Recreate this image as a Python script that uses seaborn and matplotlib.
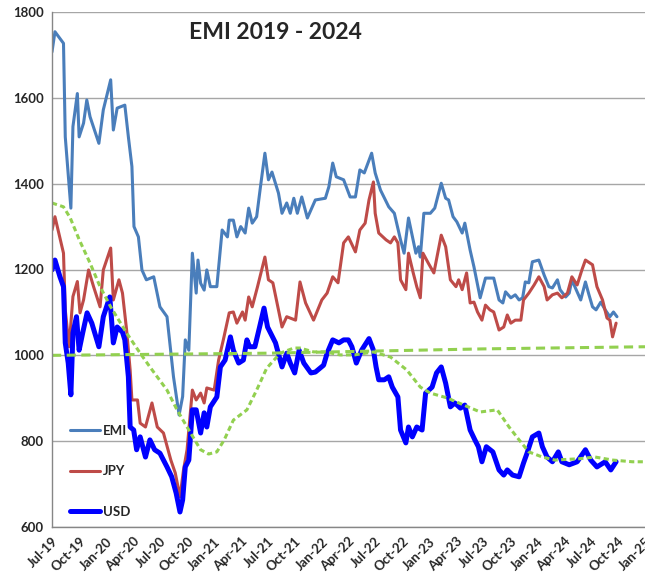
import pandas as pd
import matplotlib.pyplot as plt
import matplotlib.dates as mdates
import seaborn as sns

# EMI index
emi_dates = ['2019-07-01', '2019-07-11', '2019-08-09', '2019-08-15', '2019-09-03', '2019-09-10',
             '2019-09-25', '2019-10-01', '2019-10-16', '2019-10-27', '2019-11-07', '2019-12-07',
             '2019-12-22', '2020-01-16', '2020-01-25', '2020-02-07', '2020-03-04', '2020-03-16',
             '2020-03-28', '2020-04-04', '2020-04-19', '2020-05-01', '2020-05-16', '2020-06-10',
             '2020-07-01', '2020-07-25', '2020-08-16', '2020-09-04', '2020-09-16', '2020-09-25',
             '2020-10-07', '2020-10-19', '2020-11-01', '2020-11-07', '2020-11-16', '2020-11-28',
             '2020-12-07', '2020-12-19', '2021-01-10', '2021-01-28', '2021-02-15', '2021-02-21',
             '2021-03-07', '2021-03-19', '2021-04-01', '2021-04-16', '2021-04-28', '2021-05-10',
             '2021-05-25', '2021-06-07', '2021-06-22', '2021-07-04', '2021-07-16', '2021-08-07',
             '2021-08-19', '2021-09-04', '2021-09-16', '2021-09-28', '2021-10-10', '2021-10-25',
             '2021-11-13', '2021-12-10', '2022-01-13', '2022-01-25', '2022-02-07', '2022-02-19',
             '2022-03-16', '2022-04-07', '2022-04-25', '2022-05-10', '2022-05-25', '2022-06-19',
             '2022-07-01', '2022-07-19', '2022-08-16', '2022-09-04', '2022-09-25', '2022-10-07',
             '2022-10-22', '2022-11-16', '2022-11-25', '2022-12-01', '2022-12-13', '2023-01-04',
             '2023-01-19', '2023-02-10', '2023-02-25', '2023-03-07', '2023-03-22', '2023-04-04',
             '2023-04-22', '2023-05-01', '2023-05-19', '2023-06-01', '2023-06-22', '2023-07-10',
             '2023-08-07', '2023-08-25', '2023-09-07', '2023-09-16', '2023-10-04', '2023-10-19',
             '2023-11-01', '2023-11-13', '2023-11-22', '2023-12-04', '2023-12-16', '2024-01-07',
             '2024-01-25', '2024-02-10', '2024-02-22', '2024-03-10', '2024-03-19', '2024-04-07',
             '2024-04-19', '2024-04-28', '2024-05-10', '2024-05-28', '2024-06-13', '2024-06-25',
             '2024-07-07', '2024-07-19', '2024-08-04', '2024-08-19', '2024-09-04', '2024-09-16',
             '2024-09-28']
emi_vals = [1707, 1754, 1727, 1509, 1343, 1533, 1610, 1509, 1541, 1595, 1556, 1494,
            1572, 1642, 1525, 1576, 1583, 1509, 1440, 1300, 1276, 1199, 1176, 1183,
            1113, 1090, 950, 861, 904, 1036, 1012, 1238, 1145, 1222, 1168, 1152,
            1199, 1160, 1160, 1292, 1276, 1315, 1315, 1276, 1300, 1285, 1343, 1308,
            1323, 1393, 1471, 1409, 1427, 1378, 1331, 1355, 1331, 1366, 1331, 1369,
            1320, 1362, 1366, 1393, 1448, 1416, 1409, 1369, 1369, 1432, 1425, 1471,
            1425, 1385, 1346, 1331, 1269, 1238, 1320, 1238, 1253, 1229, 1331, 1331,
            1343, 1401, 1366, 1362, 1323, 1311, 1285, 1308, 1245, 1206, 1134, 1180,
            1180, 1129, 1122, 1148, 1134, 1141, 1129, 1134, 1171, 1169, 1218, 1222,
            1187, 1160, 1157, 1176, 1153, 1136, 1145, 1176, 1157, 1129, 1171, 1141,
            1113, 1106, 1124, 1106, 1090, 1101, 1090]

# JPY index
jpy_dates = ['2019-07-01', '2019-07-11', '2019-08-09', '2019-08-15', '2019-08-28', '2019-09-10',
             '2019-09-25', '2019-10-04', '2019-10-16', '2019-11-02', '2019-11-19', '2019-12-11',
             '2019-12-22', '2020-01-16', '2020-01-25', '2020-02-13', '2020-02-25', '2020-03-10',
             '2020-03-22', '2020-03-28', '2020-04-16', '2020-04-25', '2020-05-13', '2020-06-04',
             '2020-06-22', '2020-07-13', '2020-08-07', '2020-08-22', '2020-09-07', '2020-09-19',
             '2020-10-01', '2020-10-19', '2020-11-01', '2020-11-16', '2020-11-28', '2020-12-07',
             '2021-01-01', '2021-01-16', '2021-02-01', '2021-02-21', '2021-03-07', '2021-03-19',
             '2021-04-07', '2021-04-16', '2021-04-28', '2021-05-10', '2021-05-28', '2021-06-22',
             '2021-07-04', '2021-07-19', '2021-08-19', '2021-09-04', '2021-10-04', '2021-10-19',
             '2021-11-07', '2021-12-04', '2022-01-01', '2022-01-19', '2022-02-07', '2022-02-25',
             '2022-03-16', '2022-04-01', '2022-04-25', '2022-05-10', '2022-05-28', '2022-06-10',
             '2022-06-25', '2022-07-01', '2022-07-13', '2022-08-07', '2022-08-22', '2022-09-04',
             '2022-09-16', '2022-09-25', '2022-10-13', '2022-10-22', '2022-11-07', '2022-11-19',
             '2022-12-01', '2022-12-10', '2022-12-28', '2023-01-16', '2023-02-10', '2023-02-25',
             '2023-03-13', '2023-04-01', '2023-04-10', '2023-04-22', '2023-05-07', '2023-05-19',
             '2023-06-01', '2023-06-13', '2023-06-28', '2023-07-10', '2023-07-25', '2023-08-07',
             '2023-08-25', '2023-09-10', '2023-09-22', '2023-10-04', '2023-10-19', '2023-11-07',
             '2023-11-16', '2023-12-04', '2023-12-22', '2024-01-07', '2024-01-25', '2024-02-04',
             '2024-02-22', '2024-03-10', '2024-03-25', '2024-04-13', '2024-04-28', '2024-05-16',
             '2024-06-01', '2024-06-13', '2024-07-07', '2024-07-22', '2024-08-10', '2024-08-25',
             '2024-09-04', '2024-09-13', '2024-09-25']
jpy_vals = [1292, 1323, 1238, 1106, 1020, 1137, 1172, 1099, 1129, 1199, 1160, 1113,
            1199, 1250, 1129, 1176, 1145, 1059, 966, 896, 896, 842, 833, 889,
            833, 819, 756, 726, 670, 733, 780, 919, 896, 912, 889, 924,
            919, 989, 1036, 1099, 1101, 1075, 1101, 1082, 1136, 1113, 1160, 1229,
            1176, 1169, 1066, 1090, 1082, 1171, 1122, 1082, 1129, 1145, 1183, 1169,
            1262, 1276, 1241, 1292, 1308, 1362, 1404, 1331, 1285, 1269, 1262, 1276,
            1262, 1176, 1153, 1238, 1192, 1160, 1134, 1238, 1215, 1192, 1280, 1253,
            1176, 1160, 1176, 1153, 1192, 1122, 1124, 1101, 1082, 1117, 1106, 1101,
            1059, 1066, 1094, 1075, 1082, 1082, 1129, 1145, 1164, 1183, 1160, 1129,
            1141, 1145, 1134, 1145, 1183, 1164, 1199, 1222, 1211, 1160, 1129, 1087,
            1082, 1043, 1075]

# USD index
usd_dates = ['2019-07-01', '2019-07-11', '2019-07-28', '2019-08-09', '2019-08-15', '2019-08-25',
             '2019-09-03', '2019-09-10', '2019-09-22', '2019-10-01', '2019-10-13', '2019-10-28',
             '2019-11-13', '2019-12-07', '2019-12-22', '2020-01-13', '2020-01-25', '2020-02-07',
             '2020-02-25', '2020-03-04', '2020-03-16', '2020-03-22', '2020-04-03', '2020-04-13',
             '2020-04-25', '2020-05-13', '2020-05-28', '2020-06-13', '2020-07-01', '2020-07-25',
             '2020-08-10', '2020-08-25', '2020-09-07', '2020-09-16', '2020-09-25', '2020-10-07',
             '2020-10-19', '2020-11-01', '2020-11-16', '2020-11-28', '2020-12-07', '2020-12-19',
             '2021-01-10', '2021-01-22', '2021-02-07', '2021-02-25', '2021-03-07', '2021-03-25',
             '2021-04-10', '2021-04-22', '2021-05-01', '2021-05-19', '2021-06-04', '2021-06-19',
             '2021-07-01', '2021-07-28', '2021-08-19', '2021-09-04', '2021-09-16', '2021-10-01',
             '2021-10-16', '2021-11-01', '2021-11-25', '2021-12-10', '2022-01-07', '2022-01-19',
             '2022-02-07', '2022-02-28', '2022-03-16', '2022-04-01', '2022-04-13', '2022-04-28',
             '2022-05-16', '2022-06-10', '2022-06-25', '2022-07-04', '2022-07-13', '2022-08-01',
             '2022-08-16', '2022-08-28', '2022-09-16', '2022-09-25', '2022-10-13', '2022-10-22',
             '2022-11-04', '2022-11-19', '2022-12-07', '2022-12-19', '2023-01-10', '2023-01-25',
             '2023-02-10', '2023-02-25', '2023-03-13', '2023-03-28', '2023-04-16', '2023-05-01',
             '2023-05-19', '2023-06-04', '2023-06-16', '2023-06-28', '2023-07-13', '2023-08-04',
             '2023-08-25', '2023-09-10', '2023-09-22', '2023-10-10', '2023-11-01', '2023-11-16',
             '2023-11-28', '2023-12-16', '2024-01-07', '2024-01-19', '2024-02-04', '2024-02-22',
             '2024-03-13', '2024-03-25', '2024-04-19', '2024-05-16', '2024-06-13', '2024-07-01',
             '2024-07-22', '2024-08-19', '2024-09-07', '2024-09-25']
usd_vals = [1199, 1222, 1183, 1160, 1029, 982, 908, 1052, 1090, 1012, 1052, 1099,
            1075, 1020, 1090, 1136, 1029, 1066, 1054, 1036, 950, 833, 826, 780,
            810, 763, 803, 780, 772, 740, 717, 679, 635, 663, 740, 756,
            873, 873, 819, 866, 833, 880, 903, 973, 989, 1043, 1012, 982,
            989, 1036, 1020, 1020, 1066, 1110, 1066, 1029, 973, 1005, 982, 959,
            1012, 982, 959, 961, 977, 1005, 1036, 1029, 1036, 1036, 1020, 982,
            1012, 1039, 1012, 973, 943, 943, 950, 926, 903, 826, 796, 833,
            810, 833, 826, 912, 926, 959, 973, 935, 880, 889, 877, 884,
            826, 803, 787, 752, 787, 775, 733, 721, 733, 721, 717, 749,
            772, 810, 819, 787, 763, 752, 775, 752, 745, 752, 780, 756,
            740, 752, 733, 752]

# green trend lines
trend_dates = ['2019-07-01', '2019-08-09', '2019-09-01', '2019-10-01', '2019-11-07', '2019-12-11',
               '2020-01-16', '2020-03-10', '2020-04-25', '2020-05-28', '2020-07-25', '2020-08-28',
               '2020-10-13', '2020-11-16', '2020-12-13', '2021-01-10', '2021-02-04', '2021-03-07',
               '2021-04-22', '2021-05-25', '2021-06-28', '2021-08-13', '2021-09-28', '2021-10-19',
               '2021-12-04', '2022-01-13', '2022-03-04', '2022-04-22', '2022-06-25', '2022-08-22',
               '2022-10-16', '2022-12-01', '2023-01-04', '2023-03-01', '2023-04-28', '2023-06-22',
               '2023-08-19', '2023-09-28', '2023-11-01', '2023-12-04', '2024-01-19', '2024-03-01',
               '2024-05-22', '2024-07-16', '2024-09-13', '2024-11-19', '2025-01-01']
trend_vals = [1355, 1346, 1320, 1270, 1215, 1160, 1113, 1052, 1005, 973, 919, 873,
              819, 780, 770, 775, 803, 849, 873, 919, 970, 1005, 1017, 1017,
              1008, 1008, 1001, 1001, 1008, 996, 966, 926, 912, 901, 884, 868,
              873, 833, 803, 775, 763, 756, 759, 763, 756, 752, 752]

base_dates = ['2019-07-01', '2021-07-01', '2022-07-01', '2023-07-01', '2025-01-01']
base_vals = [1000, 1005, 1010, 1015, 1020]

sns.set_theme(style='white')
plt.rcParams['font.family'] = ['Lato', 'DejaVu Sans']

fig = plt.figure(figsize=(6.45, 5.76), dpi=100)
ax = fig.add_axes([52 / 645, 1 - 527 / 576, 593 / 645, 515 / 576])

sns.lineplot(x=pd.to_datetime(emi_dates), y=emi_vals, ax=ax, color='#4a7ebb', linewidth=2.2, label='EMI')
sns.lineplot(x=pd.to_datetime(jpy_dates), y=jpy_vals, ax=ax, color='#be4b48', linewidth=2.2, label='JPY')
sns.lineplot(x=pd.to_datetime(usd_dates), y=usd_vals, ax=ax, color='#0000ff', linewidth=3.6, label='USD')
sns.lineplot(x=pd.to_datetime(base_dates), y=base_vals, ax=ax, color='#92d050', linewidth=2.2,
             linestyle=(0, (3, 1.8)))
sns.lineplot(x=pd.to_datetime(trend_dates), y=trend_vals, ax=ax, color='#92d050', linewidth=2.2,
             linestyle=(0, (1.7, 1.1)))

ax.set_ylim(600, 1800)
ax.set_yticks(range(600, 1801, 200))
ax.set_xlim(pd.Timestamp('2019-07-01'), pd.Timestamp('2025-01-01'))
ax.xaxis.set_major_locator(mdates.MonthLocator(bymonth=[1, 4, 7, 10]))
ax.xaxis.set_major_formatter(mdates.DateFormatter('%b-%y'))
ax.set_xlabel('')
ax.set_ylabel('')

ax.yaxis.grid(True, color='#a6a6a6', linewidth=1)
ax.xaxis.grid(False)
for side in ['top', 'right']:
    ax.spines[side].set_visible(False)
for side in ['left', 'bottom']:
    ax.spines[side].set_color('#868686')
    ax.spines[side].set_linewidth(1)
ax.tick_params(axis='both', length=4, width=1, color='#868686', labelsize=9.5, pad=2)
plt.setp(ax.get_yticklabels(), fontweight='bold')
plt.setp(ax.get_xticklabels(), fontweight='bold', rotation=45, ha='right', rotation_mode='anchor')

ax.text(0.376, 0.96, 'EMI 2019 - 2024', transform=ax.transAxes, ha='center', va='center',
        fontsize=16.5, fontweight='bold')

ax.legend(loc='lower left', bbox_to_anchor=(0.01, -0.005), frameon=False,
          prop={'weight': 'bold', 'size': 9.5}, labelspacing=2.15, handlelength=2.3,
          handletextpad=0.2)

fig.savefig('out.png', dpi=100)
